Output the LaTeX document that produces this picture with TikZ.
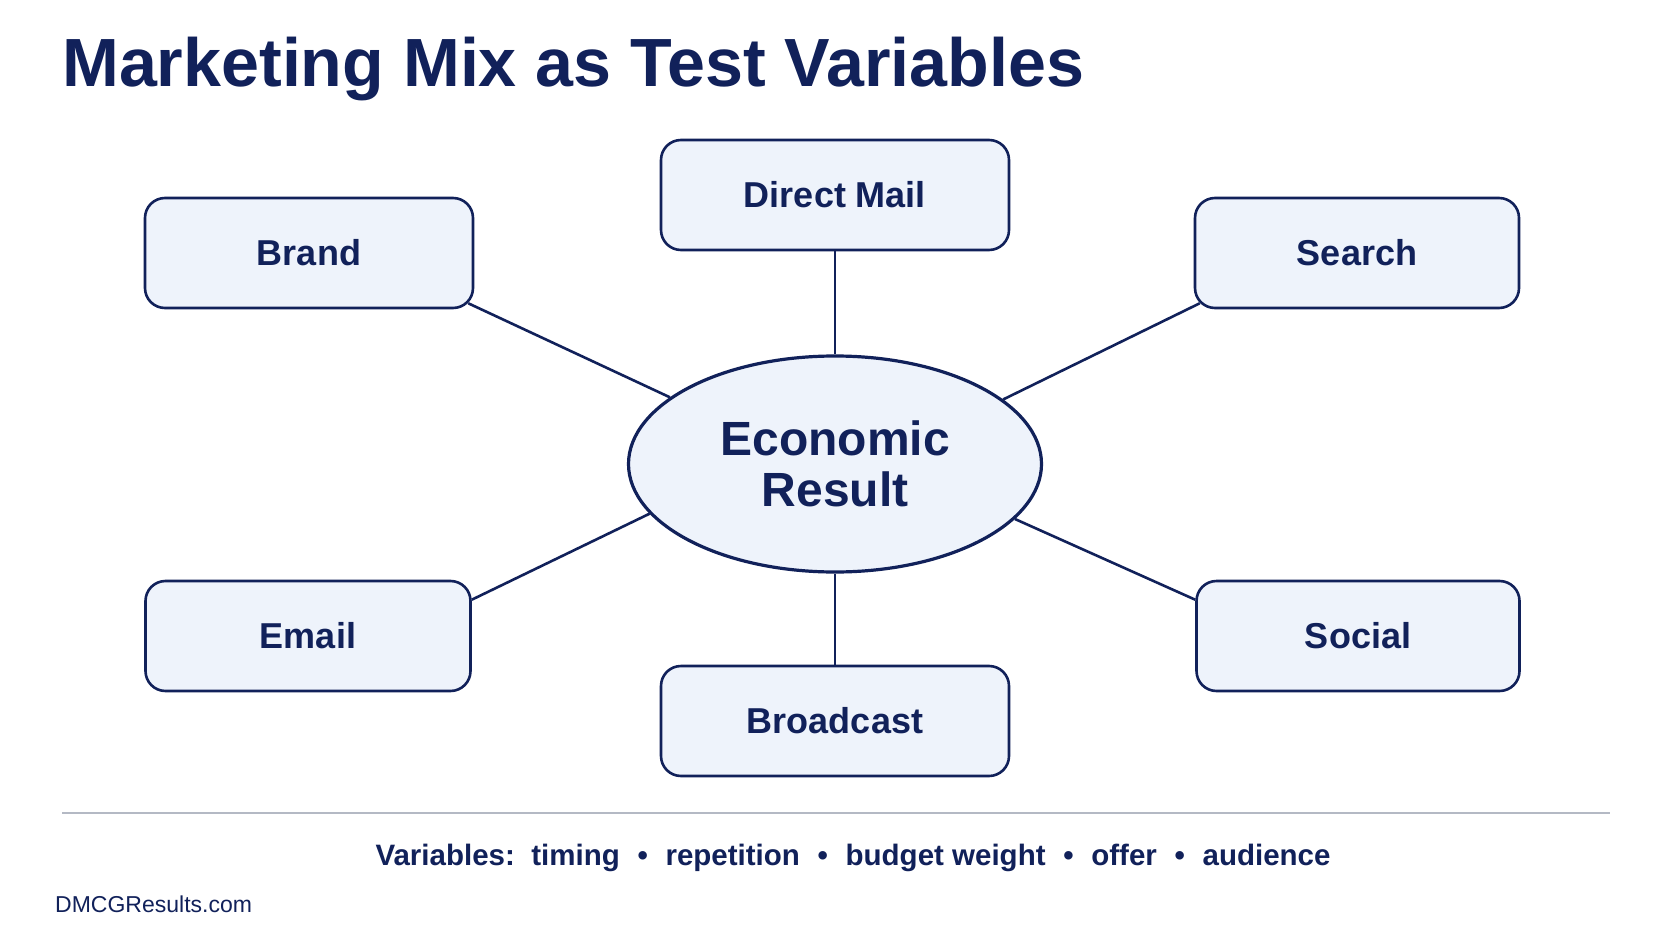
\documentclass[tikz,border=0pt]{standalone}
\usepackage{fontspec}
\setmainfont{Liberation Sans}
\usetikzlibrary{shapes.geometric}

\definecolor{navy}{HTML}{11215A}
\definecolor{boxfill}{HTML}{EEF3FB}
\definecolor{rulegray}{HTML}{B4B9C4}

\tikzset{
  mixbox/.style={draw=navy, fill=boxfill, line width=2.6pt, rounded corners=20pt,
    minimum width=#1, minimum height=110pt, text=navy,
    font=\fontsize{36}{40}\selectfont\bfseries},
  mixbox/.default=328pt,
  spoke/.style={draw=navy, line width=2.6pt},
}
\newcommand{\dotsep}{\hspace{0.6em}\textbullet\hspace{0.6em}}

\begin{document}
\begin{tikzpicture}[x=1pt,y=-1pt]
    \useasboundingbox[fill=white] (0,0) rectangle (1672,941);
    \node[anchor=base west, text=navy, font=\fontsize{68.2}{72}\selectfont\bfseries, inner sep=0pt] (title) at (62,87) {Marketing Mix as Test Variables};

    % centre
    \node[ellipse, draw=navy, fill=boxfill, line width=3.2pt, minimum width=413pt, minimum height=216pt,
      text=navy, align=center, font=\fontsize{48}{51}\selectfont\bfseries] (econ) at (835,464) {Economic\\Result};

    % channels
    \node[mixbox] (brand) at (309,253) {Brand};
    \node[mixbox=348pt] (mail) at (835,195) {Direct Mail};
    \node[mixbox=324pt] (search) at (1357,253) {Search};
    \node[mixbox=325pt] (email) at (308,636) {Email};
    \node[mixbox=348pt] (broad) at (835,721) {Broadcast};
    \node[mixbox=323pt] (social) at (1358,636) {Social};

    \draw[spoke] ([shift={(-6pt,6pt)}]brand.south east) -- (econ.158.5);
    \draw[spoke] (mail) -- (econ);
    \draw[spoke] ([shift={(6pt,6pt)}]search.south west) -- (econ.21.9);
    \draw[spoke] ([yshift=-20pt]email.north east) -- (econ.195.7);
    \draw[spoke] (broad) -- (econ);
    \draw[spoke] ([yshift=-20pt]social.north west) -- (econ.343.7);

    % footer
    \coordinate (ruleL) at (62,813);
    \coordinate (ruleR) at (1610,813);
    \draw[rulegray, line width=2pt] (ruleL) -- (ruleR);
    \node[text=navy, font=\fontsize{29.5}{34}\selectfont\bfseries] (vars) at (853,858)
      {Variables:\ \ timing\dotsep repetition\dotsep budget weight\dotsep offer\dotsep audience};
    \node[anchor=base west, inner sep=0pt, text=navy, font=\fontsize{23}{26}\selectfont] (site) at (55,912) {DMCGResults.com};
  \end{tikzpicture}
\end{document}
